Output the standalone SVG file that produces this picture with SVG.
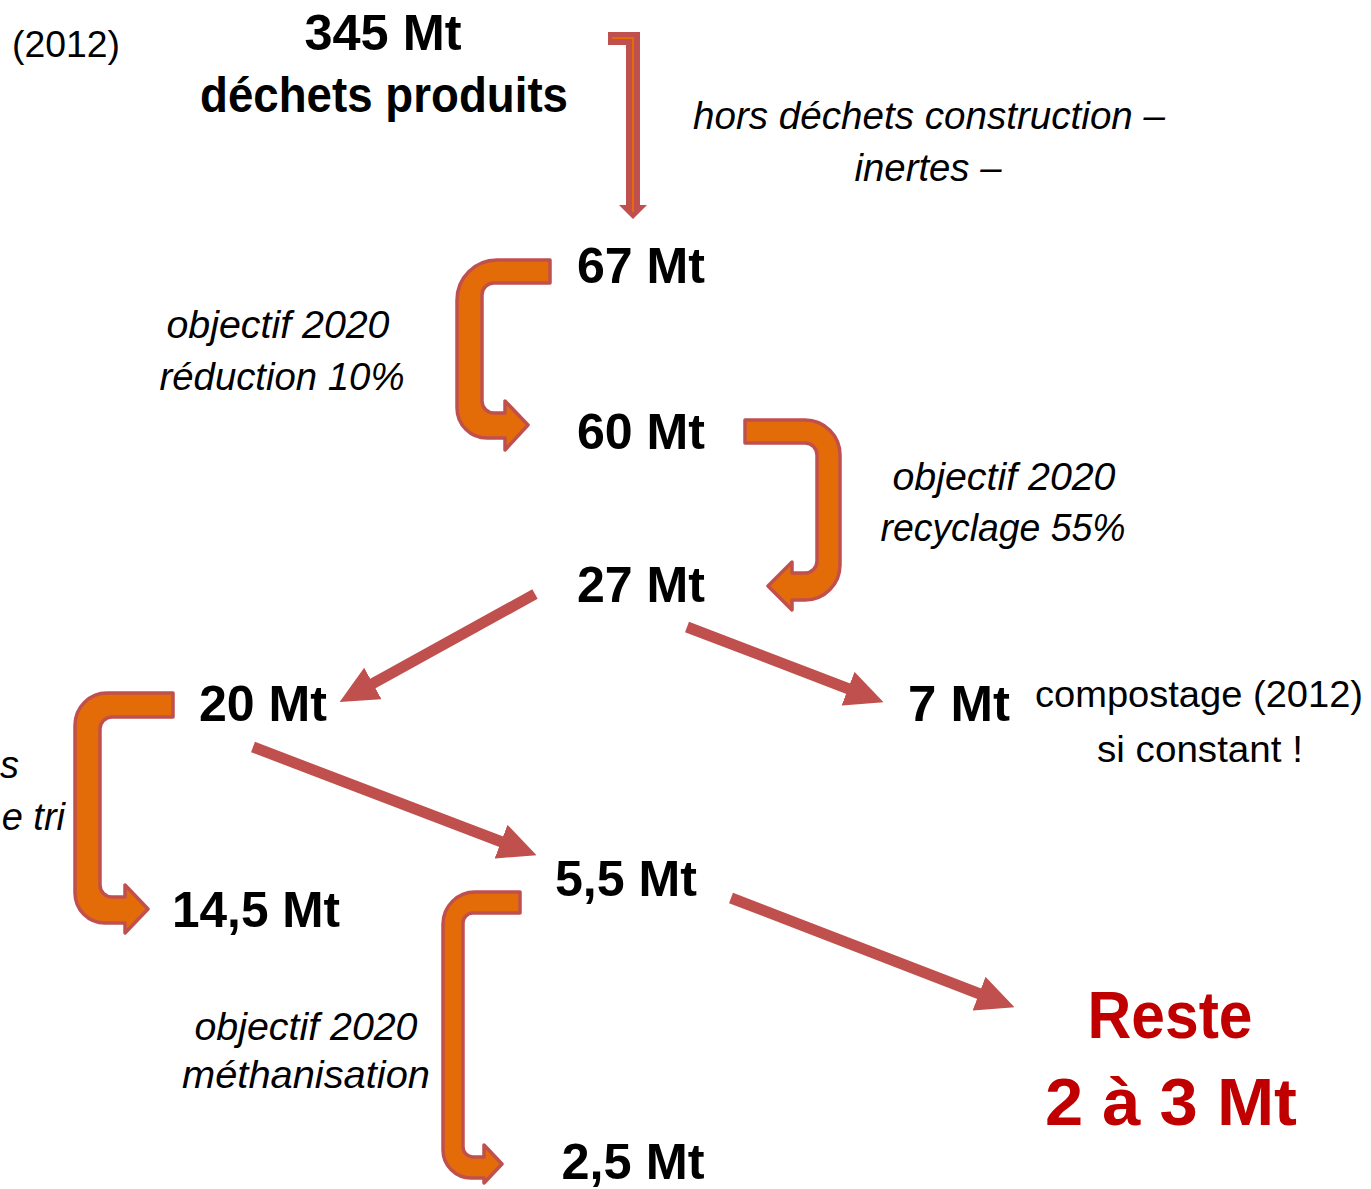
<svg xmlns="http://www.w3.org/2000/svg" width="1371" height="1189" viewBox="0 0 1371 1189">
<style>
text{font-family:"Liberation Sans",Arial,sans-serif;fill:#000}
.b{font-weight:bold;font-size:50px}
.i{font-style:italic;font-size:38px}
.r{font-size:37px}
.red{fill:#c00000;font-weight:bold;font-size:66px}
.bent{fill:#e36c09;stroke:#c0504d;stroke-width:3.5;stroke-linejoin:round}
.st{stroke:#c0504d;stroke-width:11;fill:none;marker-end:url(#ah)}
</style>
<defs>
<marker id="ah" markerUnits="userSpaceOnUse" markerWidth="38" markerHeight="36" viewBox="0 0 38 36" refX="1" refY="18" orient="auto">
<path d="M0,0 L38,18 L0,36 Z" fill="#c0504d"/>
</marker>
</defs>
<rect width="1371" height="1189" fill="#fff"/>
<g id="connectors">
<g id="arrow-top">
<path d="M608,32 H640 V205 H647 L633,219 L619,205 H626 V45 H608 Z" fill="#c0504d"/>
<path d="M612,38 H633 V212" fill="none" stroke="#e36c09" stroke-width="2"/>
</g>
<path id="bent-67-60" class="bent" d="M550,260 H497 A40,40 0 0 0 457,300 V408 A30,30 0 0 0 487,438 H505 V450 L528,425 L505,401 V413 H494 A12,12 0 0 1 482,401 V295 A12,12 0 0 1 494,283 H550 Z"/>
<path id="bent-60-27" class="bent" d="M745,420 H805 A35,35 0 0 1 840,455 V565 A35,35 0 0 1 805,600 H792 V610 L768,586 L792,562 V573 H805 A12,12 0 0 0 817,561 V455 A12,12 0 0 0 805,443 H745 Z"/>
<path id="bent-20-14" class="bent" d="M173,693 H107 A32,32 0 0 0 75,725 V893 A30,30 0 0 0 105,923 H125 V933 L148,909 L125,885 V897 H112 A12,12 0 0 1 100,885 V729 A12,12 0 0 1 112,717 H173 Z"/>
<path id="bent-55-25" class="bent" d="M520,892 H475 A32,32 0 0 0 443,924 V1150 A28,28 0 0 0 471,1178 H484 V1183 L502,1164 L484,1145 V1157 H473 A10,10 0 0 1 463,1147 V923 A10,10 0 0 1 473,913 H520 Z"/>
<line class="st" x1="535" y1="594" x2="372" y2="684"/>
<line class="st" x1="687" y1="627" x2="849" y2="689"/>
<line class="st" x1="253" y1="747" x2="502" y2="842"/>
<line class="st" x1="731" y1="898" x2="980" y2="994"/>
</g>
<g id="n-2012"><text class="r" x="66" y="57" text-anchor="middle" textLength="108" lengthAdjust="spacingAndGlyphs">(2012)</text></g>
<g id="n-345">
<text class="b" x="383" y="50" text-anchor="middle" textLength="157" lengthAdjust="spacingAndGlyphs">345 Mt</text>
<text class="b" x="384" y="112" text-anchor="middle" textLength="368" lengthAdjust="spacingAndGlyphs">déchets produits</text>
</g>
<g id="lbl-hors">
<text class="i" x="929" y="129" text-anchor="middle" textLength="472" lengthAdjust="spacingAndGlyphs">hors déchets construction –</text>
<text class="i" x="928" y="181" text-anchor="middle" textLength="147" lengthAdjust="spacingAndGlyphs">inertes –</text>
</g>
<g id="n-67"><text class="b" x="641" y="283" text-anchor="middle" textLength="128" lengthAdjust="spacingAndGlyphs">67 Mt</text></g>
<g id="lbl-reduction">
<text class="i" x="278" y="338" text-anchor="middle" textLength="223" lengthAdjust="spacingAndGlyphs">objectif 2020</text>
<text class="i" x="282" y="390" text-anchor="middle" textLength="245" lengthAdjust="spacingAndGlyphs">réduction 10%</text>
</g>
<g id="n-60"><text class="b" x="641" y="449" text-anchor="middle" textLength="128" lengthAdjust="spacingAndGlyphs">60 Mt</text></g>
<g id="lbl-recyclage">
<text class="i" x="1004" y="490" text-anchor="middle" textLength="223" lengthAdjust="spacingAndGlyphs">objectif 2020</text>
<text class="i" x="1003" y="541" text-anchor="middle" textLength="245" lengthAdjust="spacingAndGlyphs">recyclage 55%</text>
</g>
<g id="n-27"><text class="b" x="641" y="602" text-anchor="middle" textLength="128" lengthAdjust="spacingAndGlyphs">27 Mt</text></g>
<g id="n-20"><text class="b" x="263" y="721" text-anchor="middle" textLength="128" lengthAdjust="spacingAndGlyphs">20 Mt</text></g>
<g id="n-7"><text class="b" x="959" y="721" text-anchor="middle" textLength="102" lengthAdjust="spacingAndGlyphs">7 Mt</text></g>
<g id="lbl-compost">
<text class="r" x="1199" y="707" text-anchor="middle" textLength="328" lengthAdjust="spacingAndGlyphs">compostage (2012)</text>
<text class="r" x="1200" y="762" text-anchor="middle" textLength="206" lengthAdjust="spacingAndGlyphs">si constant !</text>
</g>
<g id="lbl-left">
<text class="i" x="19" y="778" text-anchor="end">s</text>
<text class="i" x="65" y="830" text-anchor="end">e tri</text>
</g>
<g id="n-14"><text class="b" x="256" y="927" text-anchor="middle" textLength="168" lengthAdjust="spacingAndGlyphs">14,5 Mt</text></g>
<g id="n-5"><text class="b" x="626" y="896" text-anchor="middle" textLength="142" lengthAdjust="spacingAndGlyphs">5,5 Mt</text></g>
<g id="lbl-methan">
<text class="i" x="306" y="1040" text-anchor="middle" textLength="223" lengthAdjust="spacingAndGlyphs">objectif 2020</text>
<text class="i" x="306" y="1088" text-anchor="middle" textLength="248" lengthAdjust="spacingAndGlyphs">méthanisation</text>
</g>
<g id="n-2"><text class="b" x="633" y="1179" text-anchor="middle" textLength="143" lengthAdjust="spacingAndGlyphs">2,5 Mt</text></g>
<g id="n-reste">
<text class="red" x="1170" y="1038" text-anchor="middle" textLength="165" lengthAdjust="spacingAndGlyphs">Reste</text>
<text class="red" x="1171" y="1125" text-anchor="middle" textLength="252" lengthAdjust="spacingAndGlyphs">2 à 3 Mt</text>
</g>
</svg>
